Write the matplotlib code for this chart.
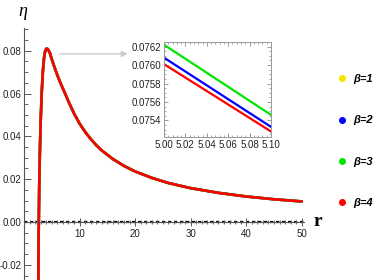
import matplotlib
matplotlib.use('Agg')
import matplotlib.pyplot as plt
from matplotlib.lines import Line2D
from matplotlib.ticker import MultipleLocator, FormatStrFormatter

# main curve (the four beta curves overlap at this scale)
r_main = [2.45, 2.55, 2.62, 2.66, 2.75, 2.85, 3.00, 3.20, 3.40, 3.60, 3.80, 4.00, 4.20,
          4.40, 4.70, 5.00, 5.50, 6.00, 6.50, 7.00, 7.40, 8.00, 9.00, 10.0, 11.0, 12.0,
          13.0, 14.0, 16.0, 18.0, 20.0, 23.0, 26.0, 30.0, 35.0, 40.0, 45.0, 50.0]
eta_main = [-0.090, -0.040, -0.012, 0.000, 0.018, 0.032, 0.047, 0.061, 0.0705, 0.0765,
            0.0797, 0.0809, 0.0809, 0.0803, 0.0786, 0.0760, 0.0722, 0.0686, 0.0653,
            0.0623, 0.0600, 0.0563, 0.0507, 0.0460, 0.0421, 0.0388, 0.0359, 0.0334,
            0.0294, 0.0262, 0.0236, 0.0206, 0.0182, 0.0158, 0.0136, 0.0119, 0.0106,
            0.0096]

# zoomed region 5.00 - 5.10
r_zoom = [5.00, 5.10]
eta_b1 = [0.07512, 0.07440]
eta_b2 = [0.07608, 0.07533]
eta_b3 = [0.07622, 0.07546]
eta_b4 = [0.07601, 0.07528]

betas = ['β=1', 'β=2', 'β=3', 'β=4']
colors = ['#f5e600', '#0000ff', '#00e600', '#ff0000']

tick_font = ['Liberation Sans Narrow', 'Liberation Sans', 'DejaVu Sans']

fig = plt.figure(figsize=(3.74, 2.8), dpi=100)
ax = fig.add_axes([24 / 374, 0.0, 280 / 374, 252 / 280])

for c in colors:
    ax.plot(r_main, eta_main, color=c, lw=1.9, solid_capstyle='round',
            solid_joinstyle='round')

ax.set_xlim(0, 50.4)
ax.set_ylim(-0.0271, 0.0906)

# axes through the origin, Mathematica style
ax.spines['top'].set_visible(False)
ax.spines['right'].set_visible(False)
ax.spines['left'].set_position(('data', 0))
ax.spines['bottom'].set_position(('data', 0))
ax.spines['left'].set_color('#555555')
ax.spines['bottom'].set_color('#555555')
ax.spines['left'].set_linewidth(0.8)
ax.axhline(0, color='black', lw=1.6, ls=(0, (1.5, 1.2)), zorder=1)

ax.xaxis.set_major_locator(MultipleLocator(10))
ax.xaxis.set_minor_locator(MultipleLocator(1))
ax.yaxis.set_major_locator(MultipleLocator(0.02))
ax.yaxis.set_minor_locator(MultipleLocator(0.005))
ax.yaxis.set_major_formatter(FormatStrFormatter('%.2f'))
ax.set_xticks([10, 20, 30, 40, 50])
ax.tick_params(axis='x', which='major', direction='inout', length=6, width=0.7,
               color='#555555', labelsize=7, pad=2)
ax.tick_params(axis='x', which='minor', direction='inout', length=3, width=0.6,
               color='#555555')
ax.tick_params(axis='y', which='major', direction='in', length=5, width=0.7,
               color='#555555', labelsize=7, pad=2)
ax.tick_params(axis='y', which='minor', direction='in', length=3, width=0.6,
               color='#555555')
for lab in ax.get_xticklabels() + ax.get_yticklabels():
    lab.set_family(tick_font)
    lab.set_color('#222222')

# axis labels
fig.text(23 / 374, 1 - 11 / 280, 'η', family='Liberation Serif', style='italic',
         fontsize=13, ha='center', va='center')
fig.text(318 / 374, 1 - 221 / 280, 'r', family='Liberation Serif', weight='bold',
         fontsize=14, ha='center', va='center')

# arrow pointing to the zoom box
ax.annotate('', xy=(19.2, 0.0785), xytext=(5.9, 0.0785),
            arrowprops=dict(arrowstyle='-|>', color='#cccccc', lw=1.0,
                            mutation_scale=9))

# inset
axin = fig.add_axes([164 / 374, 1 - 137 / 280, 107 / 374, 95 / 280])
zoom_data = [eta_b1, eta_b2, eta_b3, eta_b4]
for vals, c in zip(zoom_data, colors):
    axin.plot(r_zoom, vals, color=c, lw=1.6)
axin.set_xlim(5.0, 5.1)
axin.set_ylim(0.07522, 0.07625)
axin.xaxis.set_major_locator(MultipleLocator(0.02))
axin.xaxis.set_minor_locator(MultipleLocator(0.004))
axin.yaxis.set_major_locator(MultipleLocator(0.0002))
axin.yaxis.set_minor_locator(MultipleLocator(0.00005))
axin.xaxis.set_major_formatter(FormatStrFormatter('%.2f'))
axin.yaxis.set_major_formatter(FormatStrFormatter('%.4f'))
axin.tick_params(which='both', direction='in', top=True, right=True,
                 color='#888888', labelsize=7, pad=2)
axin.tick_params(which='major', length=3, width=0.6)
axin.tick_params(which='minor', length=1.5, width=0.5)
for s in axin.spines.values():
    s.set_color('#999999')
    s.set_linewidth(0.7)
for lab in axin.get_xticklabels() + axin.get_yticklabels():
    lab.set_family(tick_font)
    lab.set_color('#222222')

# legend
handles = [Line2D([], [], ls='none', marker='o', ms=4, color=c) for c in colors]
fig.legend(handles, betas, loc='upper left', bbox_to_anchor=(333 / 374, 1 - 71 / 280),
           frameon=False, handletextpad=0.5, handlelength=1.0, labelspacing=2.8,
           borderaxespad=0, borderpad=0.3,
           prop=dict(family='Liberation Sans', weight='bold', style='italic', size=8))

fig.savefig('out.png', dpi=100)
